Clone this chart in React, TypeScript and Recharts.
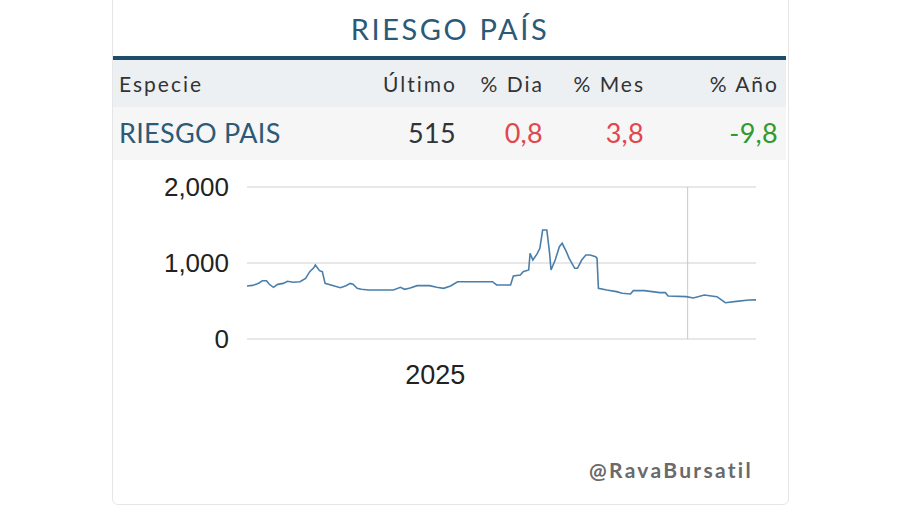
import React from 'react';
import { LineChart, Line, XAxis, YAxis, CartesianGrid, ReferenceLine } from 'recharts';

// days since the first point (about one year of daily data)
const dayOffsets = [
  0, 4, 7, 9, 11, 14, 16, 19, 22, 26, 29, 33, 38, 42, 45, 48, 49, 52, 54, 56,
  62, 67, 71, 74, 76, 79, 82, 87, 105, 110, 113, 117, 122, 131, 136, 141, 146, 151, 176, 179,
  189, 191, 196, 198, 202, 203, 205, 208, 210, 212, 215, 217, 218, 221, 224, 226, 229, 231, 235, 237,
  240, 243, 246, 250, 251, 252, 258, 265, 269, 275, 277, 285, 296, 300, 302, 315, 320, 328, 333, 337,
  343, 351, 360, 365
];

const riesgoValues = [
  697, 705, 724, 740, 767, 767, 720, 680, 719, 732, 759, 746, 754, 798, 886, 940, 974, 899, 886, 732,
  702, 675, 700, 732, 720, 667, 655, 645, 645, 680, 654, 670, 702, 702, 680, 667, 697, 754, 754, 711,
  711, 829, 842, 886, 908, 1127, 1039, 1120, 1193, 1434, 1434, 1127, 908, 1039, 1215, 1259, 1149, 1061, 930, 930,
  1039, 1105, 1105, 1083, 1061, 667, 645, 623, 601, 592, 636, 636, 610, 610, 566, 557, 540, 579, 566, 557,
  478, 495, 513, 515
];

const yTicks = [0, 1000, 2000];
const yearLabelDay = 135;
const yearBoundaryDay = 316;

const headers = ['Especie', 'Último', '% Dia', '% Mes', '% Año'];
const rowCells = ['RIESGO PAIS', '515', '0,8', '3,8', '-9,8'];
const rowColors = ['#2c5a78', '#333333', '#e0474c', '#e0474c', '#2f9a2f'];
const colRight = [0, 445, 358, 257, 123]; // distance of right edge from page right

const chartData = dayOffsets.map((d, i) => ({ day: d, value: riesgoValues[i] }));

const lato = 'Lato, "Noto Sans", sans-serif';
const axisFont = '"Liberation Sans", Arial, sans-serif';

export default function App() {
  return (
    <div style={{ position: 'absolute', left: 0, top: 0, width: 900, height: 505, background: '#fff', overflow: 'hidden' }}>
      <div
        style={{
          position: 'absolute',
          left: 112,
          top: -6,
          width: 675,
          height: 509,
          border: '1px solid #e6e6e6',
          borderRadius: 6,
          background: '#fff',
        }}
      />
      <div
        style={{
          position: 'absolute',
          left: 112,
          top: 11,
          width: 676,
          textAlign: 'center',
          fontFamily: lato,
          fontSize: 29,
          letterSpacing: 2.6,
          color: '#2b5a78',
        }}
      >
        RIESGO PAÍS
      </div>
      <div style={{ position: 'absolute', left: 113, top: 56, width: 673, height: 4, background: '#1e4d6b' }} />
      <div style={{ position: 'absolute', left: 113, top: 60, width: 673, height: 47, background: '#edf0f3' }} />
      <div style={{ position: 'absolute', left: 113, top: 107, width: 673, height: 53, background: '#f6f6f6' }} />

      {headers.map((h, i) => (
        <div
          key={h}
          style={{
            position: 'absolute',
            top: 70,
            left: i === 0 ? 119 : undefined,
            right: i === 0 ? undefined : colRight[i] - 2,
            fontFamily: lato,
            fontSize: 21,
            letterSpacing: 2,
            color: '#333',
            lineHeight: '27px',
          }}
        >
          {h}
        </div>
      ))}
      {rowCells.map((c, i) => (
        <div
          key={c + i}
          style={{
            position: 'absolute',
            top: 116,
            left: i === 0 ? 119 : undefined,
            right: i === 0 ? undefined : colRight[i] - 1,
            fontFamily: lato,
            fontSize: 27,
            letterSpacing: 0.3,
            color: rowColors[i],
            lineHeight: '34px',
          }}
        >
          {c}
        </div>
      ))}

      <div style={{ position: 'absolute', left: 140, top: 165 }}>
        <LineChart width={640} height={230} data={chartData} margin={{ top: 22, right: 24, left: 10, bottom: 10 }}>
          <CartesianGrid vertical={false} stroke="#d0d0d0" />
          <XAxis
            dataKey="day"
            type="number"
            domain={[0, 365]}
            ticks={[yearLabelDay]}
            tickFormatter={() => '2025'}
            axisLine={false}
            tickLine={false}
            tickSize={0}
            tickMargin={26}
            height={46}
            tick={{ fill: '#222', fontSize: 27, fontFamily: axisFont }}
          />
          <YAxis
            domain={[0, 2000]}
            ticks={yTicks}
            tickFormatter={(v: number) => v.toLocaleString('en-US')}
            axisLine={false}
            tickLine={false}
            tickSize={0}
            tickMargin={18}
            width={97}
            tick={{ fill: '#222', fontSize: 26, fontFamily: axisFont }}
          />
          <ReferenceLine x={yearBoundaryDay} stroke="#c8c8c8" />
          <Line
            type="linear"
            dataKey="value"
            stroke="#4a7fab"
            strokeWidth={1.6}
            dot={false}
            isAnimationActive={false}
          />
        </LineChart>
      </div>

      <div
        style={{
          position: 'absolute',
          right: 147,
          top: 457,
          fontFamily: lato,
          fontSize: 21,
          fontWeight: 700,
          letterSpacing: 2.3,
          color: '#6a6a6a',
        }}
      >
        @RavaBursatil
      </div>
    </div>
  );
}
